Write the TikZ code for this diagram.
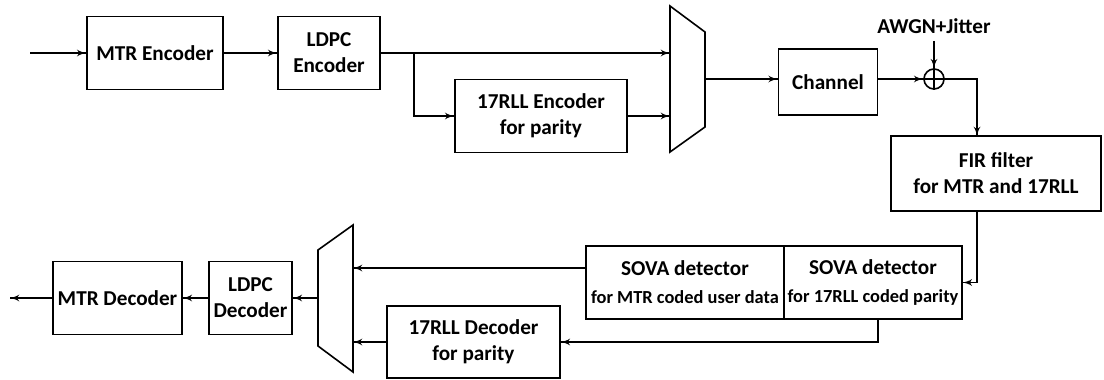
\documentclass[tikz,border=0pt]{standalone}
\usepackage{fontspec}
\setmainfont{Carlito}
\usetikzlibrary{arrows}
\usetikzlibrary{decorations.markings}
\tikzset{->/.style = {decoration={markings,
                                  mark=at position 1 with {\arrow[scale=0.9]{latex'}}},
                      postaction={decorate}}}
\tikzset{block/.style = {draw, line width=0.8pt, align=center, inner sep=0,
                         font=\bfseries\fontsize{10.6}{13}\selectfont}}
\newcommand{\sublabel}[1]{{\fontsize{9.2}{11}\selectfont #1}}

\begin{document}
\begin{tikzpicture}[x=0.5pt, y=-0.5pt, line width=0.8pt]
    \useasboundingbox (0, 0) rectangle (1104, 380);

    % encoder side
    \coordinate (in) at (30, 53);
    \node [block, minimum width=68pt, minimum height=36.5pt] (mtrenc) at (155, 53) {MTR Encoder};
    \node [block, minimum width=51pt, minimum height=36.5pt] (ldpcenc) at (329, 53) {LDPC\\Encoder};
    \node [block, minimum width=86pt, minimum height=36.5pt] (rllenc) at (541, 116) {17RLL Encoder\\for parity};
    \draw (670, 6) -- (705, 32) -- (705, 127) -- (670, 152) -- cycle;
    \coordinate (muxa) at (670, 53);
    \coordinate (muxb) at (670, 116);
    \coordinate (muxout) at (705, 79);
    \coordinate (branch) at (414, 53);

    \draw [->] (in) -- (mtrenc.west);
    \draw [->] (mtrenc.east) -- (ldpcenc.west);
    \draw [->] (ldpcenc.east) -- (muxa);
    \draw [->] (branch) |- (rllenc.west);
    \draw [->] (rllenc.east) -- (muxb);

    % channel
    \node [block, minimum width=49.5pt, minimum height=33pt] (channel) at (828, 82) {Channel};
    \node [draw, circle, minimum size=10pt, inner sep=0] (adder) at (934, 79) {};
    \draw (adder.north) -- (adder.south) (adder.west) -- (adder.east);
    \node [font=\bfseries\fontsize{10.6}{13}\selectfont] (awgn) at (934, 26) {AWGN+Jitter};
    \node [block, minimum width=105pt, minimum height=37.5pt] (fir) at (996, 173.5) {FIR filter\\for MTR and 17RLL};
    \coordinate (firin) at (977, 136);
    \coordinate (firout) at (977, 211);

    \draw [->] (muxout) -- (muxout -| channel.west);
    \draw [->] (channel.east |- adder) -- (adder.west);
    \draw [->] (awgn.south) -- (adder.north);
    \draw [->] (adder.east) -| (firin);

    % decoder side
    \node [block, minimum width=99pt, minimum height=36.5pt] (sovamtr) at (685, 282.5)
          {SOVA detector\\[1pt]\sublabel{for MTR coded user data}};
    \node [block, minimum width=89pt, minimum height=36.5pt] (sovarll) at (873, 282.5)
          {SOVA detector\\[1pt]\sublabel{for 17RLL coded parity}};
    \node [block, minimum width=86.5pt, minimum height=36pt] (rlldec) at (473.5, 342) {17RLL Decoder\\for parity};
    \draw (353, 225) -- (318, 250) -- (318, 346) -- (353, 372) -- cycle;
    \coordinate (demuxa) at (353, 268);
    \coordinate (demuxb) at (353, 342);
    \coordinate (demuxout) at (318, 298);
    \coordinate (sovaout) at (586, 268);
    \node [block, minimum width=41.5pt, minimum height=36.5pt] (ldpcdec) at (250.5, 298) {LDPC\\Decoder};
    \node [block, minimum width=64.5pt, minimum height=36.5pt] (mtrdec) at (117.5, 298) {MTR Decoder};
    \coordinate (out) at (10, 298);

    \draw [->] (firout) |- (sovarll.east);
    \draw [->] (sovaout) -- (demuxa);
    \draw [->] ([xshift=2.5pt]sovarll.south) |- (rlldec.east);
    \draw [->] (rlldec.west) -- (demuxb);
    \draw [->] (demuxout) -- (ldpcdec.east);
    \draw [->] (ldpcdec.west) -- (mtrdec.east);
    \draw [->] (mtrdec.west) -- (out);
\end{tikzpicture}
\end{document}
